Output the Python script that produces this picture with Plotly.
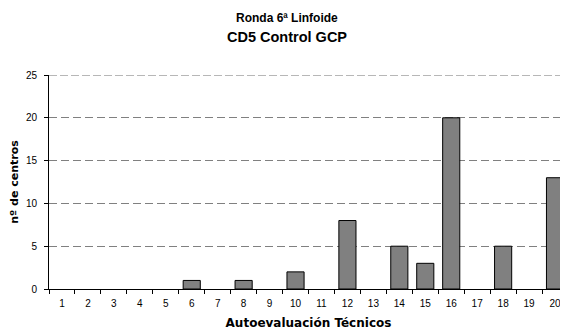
import plotly.graph_objects as go

categories = [str(i) for i in range(1, 21)]
values = [0, 0, 0, 0, 0, 1, 0, 1, 0, 2, 0, 8, 0, 5, 3, 20, 0, 5, 0, 13]
y_ticks = [0, 5, 10, 15, 20, 25]

fig = go.Figure(go.Bar(
    x=categories, y=values,
    marker=dict(color="#808080",
                line=dict(color="black", width=[1 if v > 0 else 0 for v in values])),
    width=0.66,
))

font = "Liberation Sans, Arial, sans-serif"
fig.update_layout(
    width=560, height=327,
    margin=dict(l=41, r=0, t=67, b=46),
    paper_bgcolor="white", plot_bgcolor="white",
    showlegend=False,
    font=dict(family=font, size=10, color="black"),
    xaxis=dict(
        type="category", tickson="boundaries", ticks="outside", ticklen=4,
        tickcolor="black", showline=True, linecolor="black", linewidth=1,
        showgrid=False, tickfont=dict(size=10), ticklabelstandoff=5,
        title=dict(text="<b>Autoevaluación Técnicos</b>",
                   font=dict(size=12, family="DejaVu Sans"), standoff=10),
    ),
    yaxis=dict(
        range=[0, 25], tickvals=y_ticks, ticks="outside", ticklen=4, tickcolor="black",
        showline=True, linecolor="black", linewidth=1,
        showgrid=True, gridcolor="#808080", griddash="8px,4px", gridwidth=1,
        zeroline=False, tickfont=dict(size=10), ticklabelstandoff=5,
        title=dict(text="<b>nº de centros</b>", font=dict(size=11, family="DejaVu Sans"),
                   standoff=5),
    ),
)
fig.add_shape(type="line", xref="paper", yref="y", x0=0, x1=1,
              y0=y_ticks[-1], y1=y_ticks[-1],
              line=dict(color="#707070", width=1, dash="8px,3px"))
fig.add_annotation(text="<b>Ronda 6ª Linfoide</b>", xref="paper", yref="paper",
                   x=0.459, y=1, yanchor="middle", yshift=57, showarrow=False,
                   font=dict(size=12))
fig.add_annotation(text="<b>CD5 Control GCP</b>", xref="paper", yref="paper",
                   x=0.459, y=1, yanchor="middle", yshift=38, showarrow=False,
                   font=dict(size=14.5))
fig.write_html("out.html")
